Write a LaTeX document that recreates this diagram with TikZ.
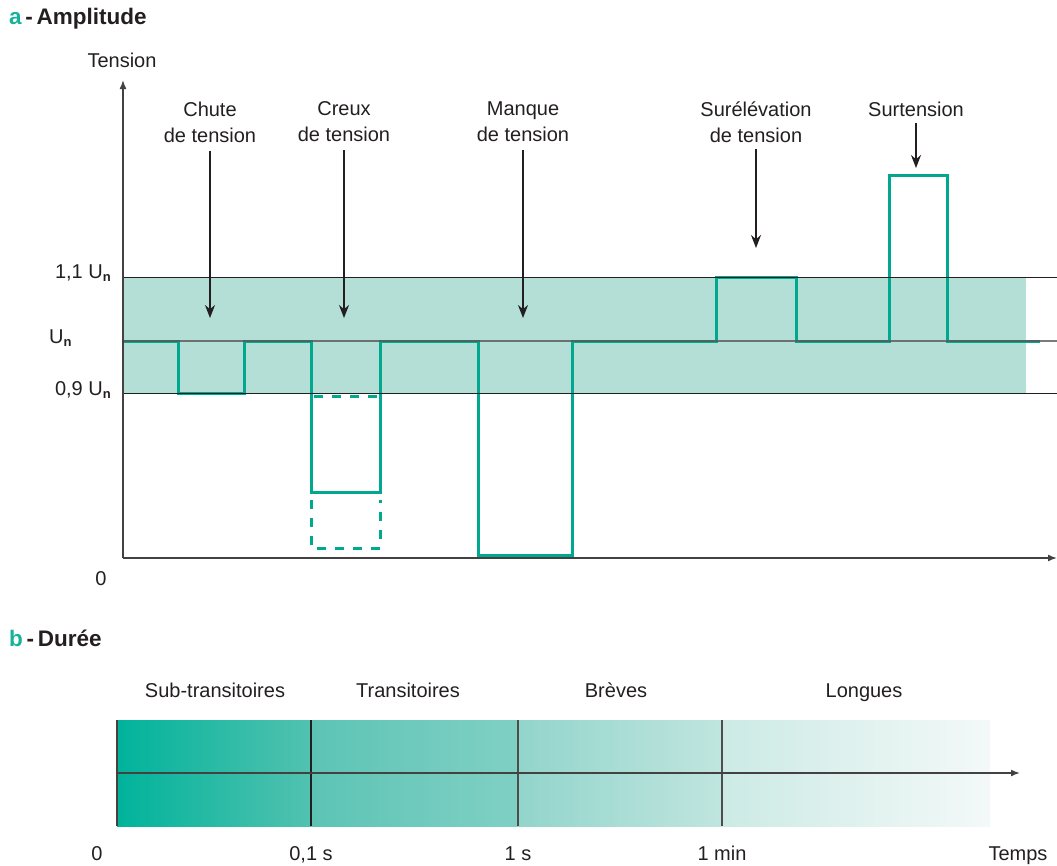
\documentclass[tikz,border=0pt]{standalone}
\usepackage{fontspec}
\setmainfont{Liberation Sans}
\usetikzlibrary{arrows.meta}
\definecolor{signal}{HTML}{00A88F}
\definecolor{band}{HTML}{B3DFD7}
\definecolor{ink}{HTML}{231F20}
\definecolor{accent}{HTML}{17B29B}
\newcommand{\Un}{U\raisebox{-0.35ex}{\fontsize{13}{13}\selectfont\bfseries n}}
\begin{document}
\begin{tikzpicture}[x=1pt,y=-1pt,
  every node/.style={text=ink,inner sep=0pt},
  lbl/.style={font=\fontsize{20}{26}\selectfont,align=center},
  tick/.style={font=\fontsize{20}{26}\selectfont,anchor=base},
  heading/.style={font=\fontsize{22.5}{26}\selectfont\bfseries,anchor=base west},
  axis/.style={draw=ink!85,line width=1.6pt,-{Latex[length=9pt,width=7pt]}},
  level/.style={draw=ink,line width=1pt},
  wave/.style={draw=signal,line width=3pt,line join=miter},
  wavedash/.style={draw=signal,line width=3pt,dash pattern=on 9pt off 9pt},
  pointer/.style={draw=ink,line width=1.4pt,-{Stealth[length=13pt,width=10pt]}},
  divider/.style={draw=ink!85,line width=1.6pt}]
\useasboundingbox (0,0) rectangle (1057,865);

% ---------- a - Amplitude ----------
\node[heading] (ta) at (9,24) {\textcolor{accent}{a}\,-\,Amplitude};
\node[tick] (ytitle) at (122,67) {Tension};

% tolerance band between 0,9 Un and 1,1 Un
\fill[band] (123,277) rectangle (1026,393);

% axes
\coordinate (o) at (123,558);
\coordinate (ytop) at (123,80);
\coordinate (xend) at (1057,558);

% voltage waveform
\draw[wave] (123,341) -- (178,341) -- (178,393) -- (244,393) -- (244,341)
  -- (311,341) -- (311,492) -- (380,492) -- (380,341)
  -- (478,341) -- (478,555) -- (572,555) -- (572,341)
  -- (716,341) -- (716,277) -- (796,277) -- (796,341)
  -- (889,341) -- (889,175) -- (947,175) -- (947,341) -- (1040,341);
% possible deeper dip of the voltage sag
\draw[wavedash] (314,396) -- (380,396);
\draw[wavedash] (311,500) -- (311,548) -- (380,548) -- (380,500);

% reference levels
\draw[level] (123,277) -- (1057,277);
\draw[level] (123,393) -- (1057,393);
\draw[draw=ink!75,line width=1.2pt,opacity=0.8] (123,341) -- (1057,341);

\draw[axis] (o) -- (ytop);
\draw[axis] (o) -- (xend);

% level labels
\node[lbl,anchor=base east] (l11) at (111,278) {1,1 \Un};
\node[lbl,anchor=base west] (l10) at (49,343) {\Un};
\node[lbl,anchor=base east] (l09) at (111,395) {0,9 \Un};
\node[tick] (l0) at (101,585) {0};

% disturbance labels and pointers
\node[lbl] (chute) at (210,122) {Chute\\de tension};
\node[lbl] (creux) at (344,122) {Creux\\de tension};
\node[lbl] (manque) at (523,122) {Manque\\de tension};
\node[lbl] (surel) at (756,122) {Surélévation\\de tension};
\node[lbl] (surt) at (916,109) {Surtension};

\coordinate (pchute) at (210,318);
\coordinate (pcreux) at (344,318);
\coordinate (pmanque) at (523,318);
\coordinate (psurel) at (756,248);
\coordinate (psurt) at (916,168);

\draw[pointer,shorten <=8pt] (chute.south) -- (pchute);
\draw[pointer,shorten <=8pt] (creux.south) -- (pcreux);
\draw[pointer,shorten <=8pt] (manque.south) -- (pmanque);
\draw[pointer,shorten <=6pt] (surel.south) -- (psurel);
\draw[pointer,shorten <=6pt] (surt.south) -- (psurt);

% ---------- b - Duree ----------
\node[heading] (tb) at (9,646) {\textcolor{accent}{b}\,-\,Durée};

% duration bands with fading shade
\shade[left color={rgb,255:red,0;green,179;blue,155},right color={rgb,255:red,82;green,194;blue,176}] (117,720) rectangle (311,826);
\shade[left color={rgb,255:red,92;green,196;blue,181},right color={rgb,255:red,128;green,208;blue,196}] (311,720) rectangle (518,826);
\shade[left color={rgb,255:red,146;green,213;blue,203},right color={rgb,255:red,192;green,229;blue,223}] (518,720) rectangle (722,826);
\shade[left color={rgb,255:red,204;green,234;blue,229},right color={rgb,255:red,243;green,249;blue,248}] (722,720) rectangle (990,826);

\coordinate (b0t) at (117,720);  \coordinate (b0b) at (117,826);
\coordinate (b1t) at (311,720);  \coordinate (b1b) at (311,826);
\coordinate (b2t) at (518,720);  \coordinate (b2b) at (518,826);
\coordinate (b3t) at (722,720);  \coordinate (b3b) at (722,826);
\coordinate (ts) at (117,773);   \coordinate (te) at (1020,773);

\draw[divider] (b0t) -- (b0b);
\draw[draw=ink,line width=2.2pt] (b1t) -- (b1b);
\draw[draw=ink!80,line width=1.3pt] (b2t) -- (b2b);
\draw[draw=ink!80,line width=1.3pt] (b3t) -- (b3b);
\draw[axis] (ts) -- (te);

\node[tick] (dsub) at (215,697) {Sub-transitoires};
\node[tick] (dtra) at (408,697) {Transitoires};
\node[tick] (dbre) at (616,697) {Brèves};
\node[tick] (dlon) at (864,697) {Longues};

\node[tick] (t0) at (97,860) {0};
\node[tick] (t1) at (311,860) {0,1 s};
\node[tick] (t2) at (518,860) {1 s};
\node[tick] (t3) at (722,860) {1 min};
\node[tick] (t4) at (1018,860) {Temps};
\end{tikzpicture}
\end{document}
